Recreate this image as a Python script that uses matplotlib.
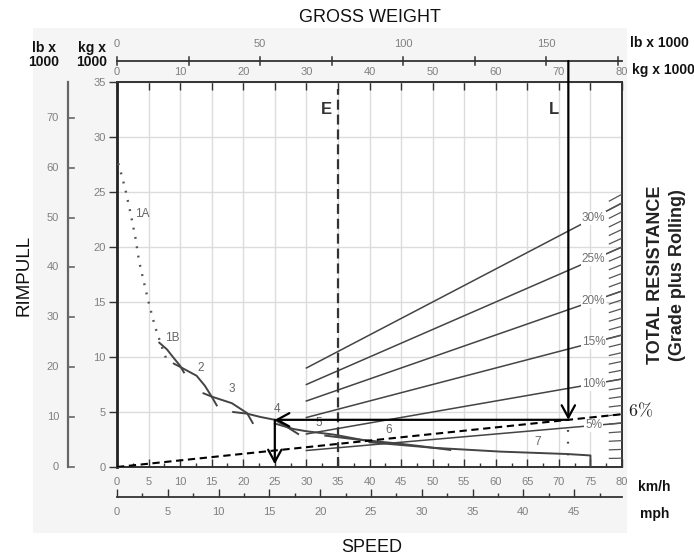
import numpy as np
import matplotlib
matplotlib.use("Agg")
import matplotlib.pyplot as plt
from matplotlib.patches import Rectangle

plt.rcParams["font.family"] = ["Liberation Sans", "DejaVu Sans"]

# ---------------------------------------------------------------- data
KG_PER_LB = 0.45359237
KMH_PER_MPH = 1.609344

speed_ticks_kmh = list(range(0, 81, 5))
speed_minor_kmh = [v + 2.5 for v in range(0, 80, 5)]
speed_ticks_mph = list(range(0, 46, 5))
speed_minor_mph = [v + 2.5 for v in range(0, 50, 5)]
rimpull_ticks_kg = list(range(0, 36, 5))
rimpull_ticks_lb = list(range(0, 71, 10))
weight_ticks_kg = list(range(0, 81, 10))
weight_ticks_lb = [0, 50, 100, 150]
weight_marks_lb = list(range(0, 176, 25))

# rimpull available per gear range: speed (km/h), rimpull (kg x 1000)
gear_1a_speed = [0.2, 0.6, 1.3, 2.1, 2.9, 3.5, 4.1, 5.0, 6.0, 7.3, 7.9]
gear_1a_rimpull = [27.6, 26.8, 25.3, 23.2, 20.9, 18.7, 17.2, 15.0, 12.8, 10.6, 9.7]
gear_1b_speed = [6.7, 7.9, 9.0, 10.0, 10.6]
gear_1b_rimpull = [11.3, 10.7, 9.9, 9.2, 8.6]
gear_2_speed = [9.0, 10.0, 12.6, 13.9, 15.0, 15.8]
gear_2_rimpull = [9.4, 9.1, 8.3, 7.4, 6.4, 5.6]
gear_3_speed = [13.7, 15.0, 18.2, 20.6, 21.5]
gear_3_rimpull = [6.7, 6.4, 5.8, 4.9, 4.0]
gear_4_speed = [18.4, 20.6, 22.7, 25.0, 26.9, 28.7]
gear_4_rimpull = [5.0, 4.85, 4.55, 4.29, 3.65, 3.0]
gear_5_speed = [25.0, 28.0, 30.0, 34.3, 38.5, 42.0]
gear_5_rimpull = [3.95, 3.45, 3.25, 2.95, 2.5, 2.2]
gear_6_speed = [33.0, 38.0, 44.3, 48.0, 52.8]
gear_6_rimpull = [2.85, 2.5, 2.15, 1.9, 1.55]
gear_7_speed = [40.0, 50.0, 60.7, 71.3, 75.0, 75.0]
gear_7_rimpull = [2.25, 1.75, 1.4, 1.18, 1.05, 0.0]

gear_names = ["1A", "1B", "2", "3", "4", "5", "6", "7"]
gear_label_speed = [4.0, 8.7, 13.2, 18.2, 25.3, 31.9, 43.1, 66.7]
gear_label_rimpull = [23.0, 11.75, 9.0, 7.1, 5.25, 4.0, 3.35, 2.3]

grades_pct = [5, 10, 15, 20, 25, 30]
grade_scale_pct = list(range(1, 32))
grade_start_weight = 30   # kg x 1000
grade_label_weight = 75.5
empty_weight = 35         # kg x 1000
loaded_weight = 71.5      # kg x 1000
effective_grade = 6       # %
travel_speed = 25         # km/h

# ---------------------------------------------------------------- figure
FW, FH = 694, 558
fig = plt.figure(figsize=(FW / 100, FH / 100), dpi=100)


def fxf(px):
    return px / FW


def fyf(py):
    return 1 - py / FH


fig.patches.append(Rectangle((fxf(33), fyf(533)), fxf(627) - fxf(33),
                             fyf(28) - fyf(533), transform=fig.transFigure,
                             facecolor="#f5f5f5", edgecolor="none", zorder=-5))

LEFT, RIGHT, TOP, BOTTOM = 117, 622, 82, 467
ax = fig.add_axes([fxf(LEFT), fyf(BOTTOM), fxf(RIGHT) - fxf(LEFT),
                   fyf(TOP) - fyf(BOTTOM)])
ax.set_xlim(0, 80)
ax.set_ylim(0, 35)
ax.set_facecolor("white")


def xfrac(px):
    return (px - LEFT) / (RIGHT - LEFT)


def yfrac(py):
    return (BOTTOM - py) / (BOTTOM - TOP)


TICK_GRAY = "#808080"
INK = "#333333"

ax.set_xticks(speed_ticks_kmh)
ax.set_xticks(speed_minor_kmh, minor=True)
ax.set_yticks(rimpull_ticks_kg)
ax.tick_params(axis="x", which="major", direction="in", length=6, width=1,
               color=INK, top=True, bottom=True, labelsize=8,
               labelcolor=TICK_GRAY, pad=7)
ax.tick_params(axis="x", which="minor", direction="in", length=3, width=1,
               color=INK, top=False, bottom=True)
ax.tick_params(axis="y", which="major", direction="out", length=6, width=1,
               color=INK, labelsize=8, labelcolor=TICK_GRAY, pad=2)
ax.grid(True, which="major", color="#dcdcdc", lw=1.0)
ax.set_axisbelow(True)
for side in ["top", "right", "bottom"]:
    ax.spines[side].set_color(INK)
    ax.spines[side].set_linewidth(1.4)
ax.spines["left"].set_color("#222222")
ax.spines["left"].set_linewidth(2.0)

# speed in mph below the km/h scale
sec = ax.secondary_xaxis(yfrac(497), functions=(lambda k: k / KMH_PER_MPH,
                                                 lambda m: m * KMH_PER_MPH))
sec.set_xticks(speed_ticks_mph)
sec.set_xticks(speed_minor_mph, minor=True)
sec.tick_params(which="major", direction="in", length=6, width=1, color=INK,
                labelsize=8, labelcolor=TICK_GRAY, pad=7)
sec.tick_params(which="minor", direction="in", length=3, width=1, color=INK)
sec.spines["bottom"].set_color(INK)
sec.spines["bottom"].set_linewidth(1.3)

# gross weight scale (lb above, kg below one line)
tx = ax.get_xaxis_transform()
y_top = yfrac(61)
d = 4 / (BOTTOM - TOP)
ax.plot([0, 80], [y_top, y_top], transform=tx, color=INK, lw=1.3,
        clip_on=False)
for lb in weight_marks_lb:
    kg = lb * KG_PER_LB
    ax.plot([kg, kg], [y_top - d, y_top + d], transform=tx, color=INK, lw=1.1,
            clip_on=False)
for lb in weight_ticks_lb:
    ax.text(lb * KG_PER_LB, yfrac(44), str(lb), transform=tx, ha="center",
            va="center", fontsize=8, color=TICK_GRAY)
for kg in weight_ticks_kg:
    ax.text(kg, yfrac(72), str(kg), transform=tx, ha="center", va="center",
            fontsize=8, color=TICK_GRAY)

# rimpull in lb on an outer scale
ty = ax.get_yaxis_transform()
x_out = xfrac(68)
ax.plot([x_out, x_out], [0, 35], transform=ty, color="#666666", lw=1.6,
        clip_on=False)
for lb in rimpull_ticks_lb:
    kg = lb * KG_PER_LB
    ax.plot([x_out, x_out + 6 / (RIGHT - LEFT)], [kg, kg], transform=ty,
            color="#666666", lw=1.2, clip_on=False)
    ax.text(xfrac(59), kg, str(lb), transform=ty, ha="right", va="center",
            fontsize=8, color=TICK_GRAY)

# total resistance lines (rimpull required = grade x gross weight)
w_max = ax.get_xlim()[1]
for g in grades_pct:
    w = np.array([grade_start_weight, w_max])
    ax.plot(w, g / 100 * w, color="#444444", lw=1.1, zorder=3)
    ax.text(grade_label_weight, g / 100 * grade_label_weight, f"{g}%",
            ha="center", va="center", fontsize=8.5, color="#707070", zorder=4,
            bbox=dict(facecolor="white", edgecolor="none", pad=0.6))
for g in grade_scale_pct:
    w = np.array([w_max - 2, w_max])
    ax.plot(w, g / 100 * w, color="#555555", lw=0.9, zorder=3)

# effective grade line
w = np.array([0, w_max])
ax.plot(w, effective_grade / 100 * w, color="black", lw=1.5,
        ls=(0, (3.5, 2.2)), zorder=5)
fig.text(fxf(628), fyf(411), r"$6\%$", math_fontfamily="cm", fontsize=13,
         ha="left", va="center", color="#222222")

# gear ranges
ax.plot(gear_1a_speed, gear_1a_rimpull, color="#555555", lw=1.7,
        ls=(0, (0.8, 3.2)), zorder=4)
for sp, rp in [(gear_1b_speed, gear_1b_rimpull), (gear_2_speed, gear_2_rimpull),
               (gear_3_speed, gear_3_rimpull), (gear_4_speed, gear_4_rimpull),
               (gear_5_speed, gear_5_rimpull), (gear_6_speed, gear_6_rimpull),
               (gear_7_speed, gear_7_rimpull)]:
    ax.plot(sp, rp, color="#444444", lw=1.4, zorder=4)
for name, sx, ry in zip(gear_names, gear_label_speed, gear_label_rimpull):
    ax.text(sx, ry, name, ha="center", va="center", fontsize=8.5,
            color="#666666", zorder=4)

# empty and loaded weights
ax.plot([empty_weight, empty_weight], [0, 34.4], color=INK, lw=1.6,
        ls=(0, (4.5, 2.2)), zorder=3)
ax.text(empty_weight - 1.8, yfrac(110) * 35, "E", ha="center", va="center",
        fontsize=12, fontweight="bold", color=INK)
ax.text(loaded_weight - 2.3, yfrac(110) * 35, "L", ha="center", va="center",
        fontsize=12, fontweight="bold", color=INK)

r_req = effective_grade / 100 * loaded_weight
arrow = dict(arrowstyle="->,head_length=0.55,head_width=0.3", color="black",
             lw=1.6, shrinkA=0, shrinkB=0, mutation_scale=16)
ax.annotate("", xy=(loaded_weight, r_req), xycoords="data",
            xytext=(loaded_weight, y_top), textcoords=tx, arrowprops=arrow,
            annotation_clip=False, zorder=6)
ax.annotate("", xy=(travel_speed, r_req), xytext=(loaded_weight, r_req),
            arrowprops=arrow, zorder=6)
ax.annotate("", xy=(travel_speed, 0.25), xytext=(travel_speed, r_req),
            arrowprops=arrow, zorder=6)
ax.plot([loaded_weight, loaded_weight], [r_req - 0.9, 0.7], color="#444444",
        lw=1.6, ls=(0, (0.8, 4.5)), zorder=5)

# titles and unit labels
fig.text(fxf(370), fyf(18), "GROSS WEIGHT", ha="center", va="center",
         fontsize=13, color="#111111")
fig.text(fxf(372), fyf(548), "SPEED", ha="center", va="center", fontsize=13,
         color="#111111")
fig.text(fxf(24), fyf(275), "RIMPULL", ha="center", va="center", rotation=90,
         fontsize=13.5, color="#111111")
fig.text(fxf(656), fyf(275), "TOTAL RESISTANCE", ha="center", va="center",
         rotation=90, fontsize=13, fontweight="bold", color="#222222")
fig.text(fxf(677), fyf(275), "(Grade plus Rolling)", ha="center", va="center",
         rotation=90, fontsize=13, fontweight="bold", color="#222222")

unit_kw = dict(fontsize=10, fontweight="bold", color="#111111", va="center")
fig.text(fxf(44), fyf(55), "lb x\n1000", ha="center", linespacing=1.0, **unit_kw)
fig.text(fxf(92), fyf(55), "kg x\n1000", ha="center", linespacing=1.0, **unit_kw)
fig.text(fxf(630), fyf(43), "lb x 1000", ha="left", **unit_kw)
fig.text(fxf(632), fyf(70), "kg x 1000", ha="left", **unit_kw)
fig.text(fxf(638), fyf(487), "km/h", ha="left", **unit_kw)
fig.text(fxf(640), fyf(514), "mph", ha="left", **unit_kw)

fig.savefig("out.png", dpi=100)
